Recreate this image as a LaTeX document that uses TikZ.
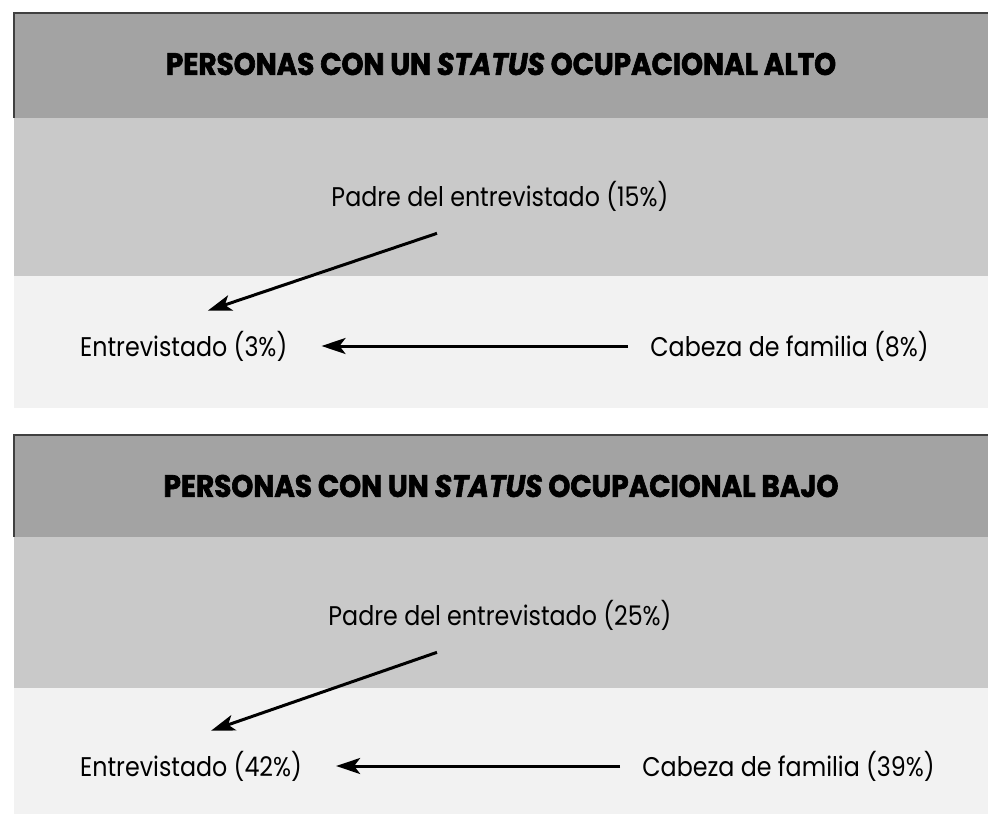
\documentclass[tikz,border=0pt]{standalone}
\usepackage{fontspec}
\setmainfont{Poppins}
\usetikzlibrary{arrows.meta}
\begin{document}
\begin{tikzpicture}[x=1pt,y=-1pt,
  hdrband/.style={fill=black!36},
  midband/.style={fill=black!21},
  lowband/.style={fill=black!5},
  edgeline/.style={draw=black!75,line width=1.2pt},
  titletext/.style={font=\fontsize{31}{33}\selectfont\bfseries\addfontfeature{FakeStretch=0.9,FakeBold=2},text=black,inner sep=0pt},
  lbl/.style={font=\fontsize{27}{29}\selectfont\addfontfeature{FakeStretch=0.88},text=black,inner sep=0pt},
  arr/.style={draw=black,line width=3pt,-{Stealth[length=24pt,width=16pt,inset=6pt]}}
]
\useasboundingbox (0,0) rectangle (988,814);
\fill[white] (0,0) rectangle (988,814);
% panel 1
\fill[hdrband] (14,13) rectangle (988,118);
\fill[midband] (14,118) rectangle (988,276);
\fill[lowband] (14,276) rectangle (988,408);
\draw[edgeline] (14,118) -- (14,13) -- (988,13);
\node[titletext] (t1) at (501,64) {PERSONAS CON UN \textit{STATUS} OCUPACIONAL ALTO};
\node[lbl] (p1) at (500,196) {Padre del entrevistado (15\%)};
\node[lbl,anchor=west] (e1) at (80,346) {Entrevistado (3\%)};
\node[lbl,anchor=east] (c1) at (929,346) {Cabeza de familia (8\%)};
\draw[arr] ([xshift=-63pt,yshift=-22pt]p1.south) -- ([xshift=24pt,yshift=20pt]e1.north);
\draw[arr,shorten <=22pt,shorten >=34pt] (c1.west) -- (e1.east);
% panel 2
\fill[hdrband] (14,435) rectangle (988,537);
\fill[midband] (14,537) rectangle (988,688);
\fill[lowband] (14,688) rectangle (988,814);
\draw[edgeline] (14,537) -- (14,435) -- (988,435);
\node[titletext] (t2) at (501,486) {PERSONAS CON UN \textit{STATUS} OCUPACIONAL BAJO};
\node[lbl] (p2) at (500,615) {Padre del entrevistado (25\%)};
\node[lbl,anchor=west] (e2) at (80,766) {Entrevistado (42\%)};
\node[lbl,anchor=east] (c2) at (935,766) {Cabeza de familia (39\%)};
\draw[arr] ([xshift=-63pt,yshift=-22pt]p2.south) -- ([xshift=20pt,yshift=20pt]e2.north);
\draw[arr,shorten <=22pt,shorten >=34pt] (c2.west) -- (e2.east);
\end{tikzpicture}
\end{document}
